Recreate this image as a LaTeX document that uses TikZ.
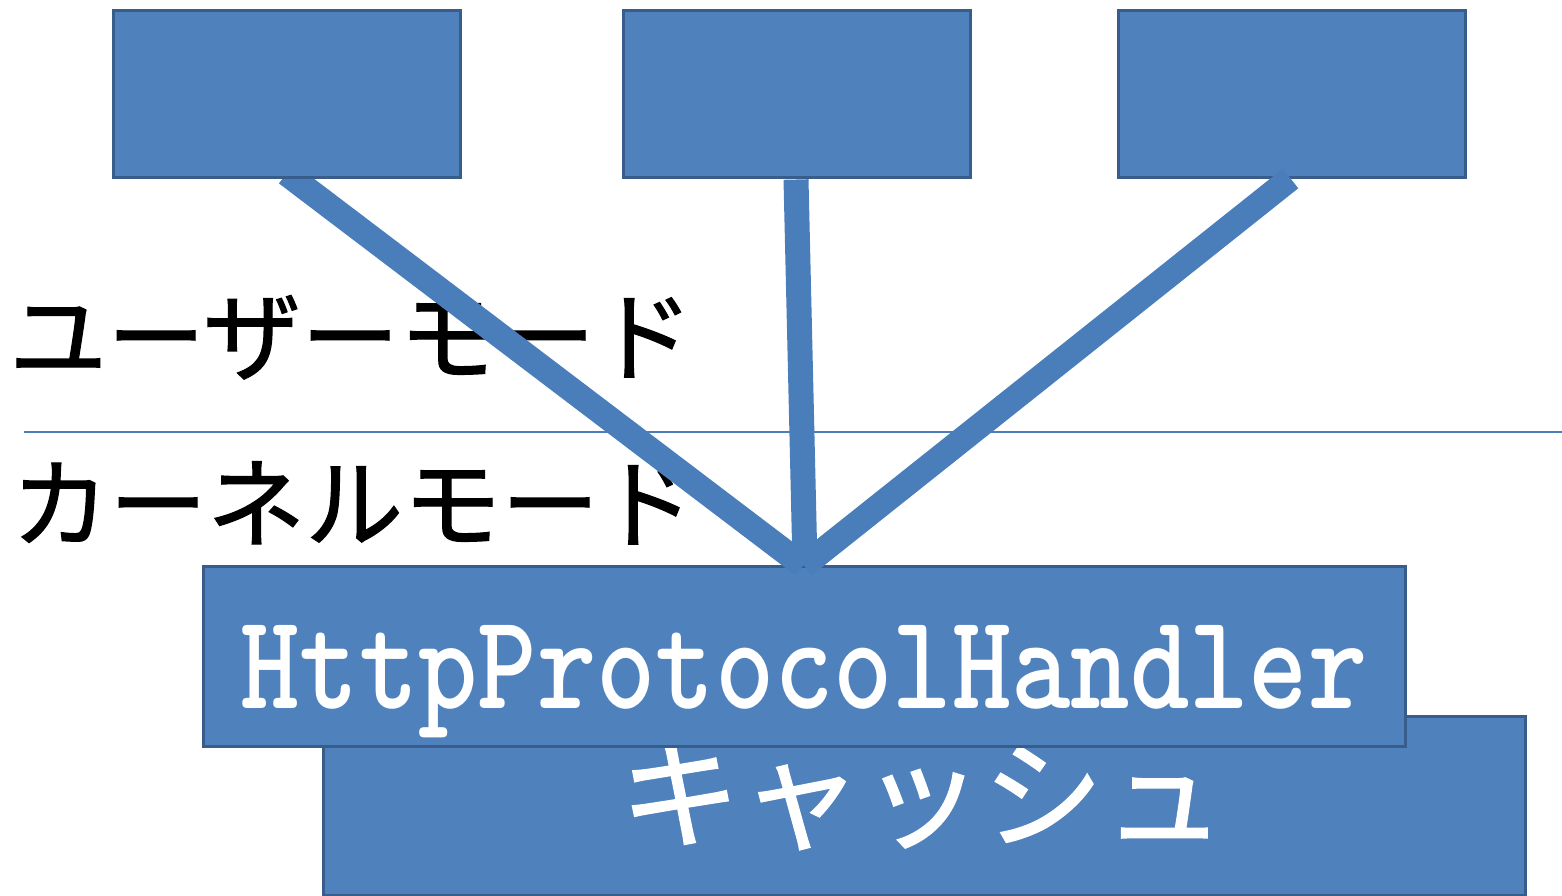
\documentclass[tikz,border=0pt]{standalone}
\usepackage{fontspec}
\newfontfamily\jp[FakeBold=1.2]{Noto Sans CJK JP}
\definecolor{boxfill}{HTML}{4F81BD}
\definecolor{boxline}{HTML}{385D8A}
\definecolor{linkc}{HTML}{4A7EBB}
\pgfdeclarelayer{front}
\pgfsetlayers{main,front}
\tikzset{
  bluebox/.style={draw=boxline, fill=boxfill, line width=3pt, rectangle, inner sep=0pt},
  topbox/.style={bluebox, minimum width=347pt, minimum height=167pt},
  wide/.style={bluebox, minimum width=1202pt},
  link/.style={draw=linkc, line width=25pt, line cap=butt},
  modetext/.style={inner sep=0pt, anchor=base west, font=\jp\fontsize{98}{98}\selectfont},
  boxtext/.style={inner sep=0pt, anchor=base, text=white}
}
\begin{document}
\begin{tikzpicture}[x=1pt, y=-1pt]
\useasboundingbox (0,0) rectangle (1562,896);
% boxes
\begin{pgfonlayer}{front}
\node[topbox] (u1) at (286.5,94.5) {};
\end{pgfonlayer}
\node[topbox] (u2) at (796.5,94.5) {};
\node[topbox] (u3) at (1291.5,94.5) {};
\node[wide, minimum height=179pt] (c) at (924,805.5) {};
\node[boxtext, font=\jp\fontsize{121}{121}\selectfont] (ct) at (922,839) {キャッシュ};
\node[wide, minimum height=180pt] (h) at (804,656) {};
\node[boxtext] (ht) at (804,708) {\scalebox{1.13}[1.36]{\fontsize{100}{100}\selectfont\ttfamily\bfseries HttpProtocolHandler}};
% divider
\coordinate (dl) at (24,432);
\coordinate (dr) at (1562,432);
\draw[draw=linkc, line width=2pt] (dl) -- (dr);
% mode labels
\node[modetext] (um) at (9,373) {ユーザーモード};
\node[modetext] (km) at (11,540) {カーネルモード};
% links
\draw[link] ([shift={(0,-6)}]u1.south) -- ([shift={(-1,1)}]h.north);
\draw[link] ([shift={(-0.5,0)}]u2.south) -- ([shift={(1,1)}]h.north);
\draw[link] ([shift={(-1,-1)}]u3.south) -- ([shift={(0,1)}]h.north);
\end{tikzpicture}
\end{document}
